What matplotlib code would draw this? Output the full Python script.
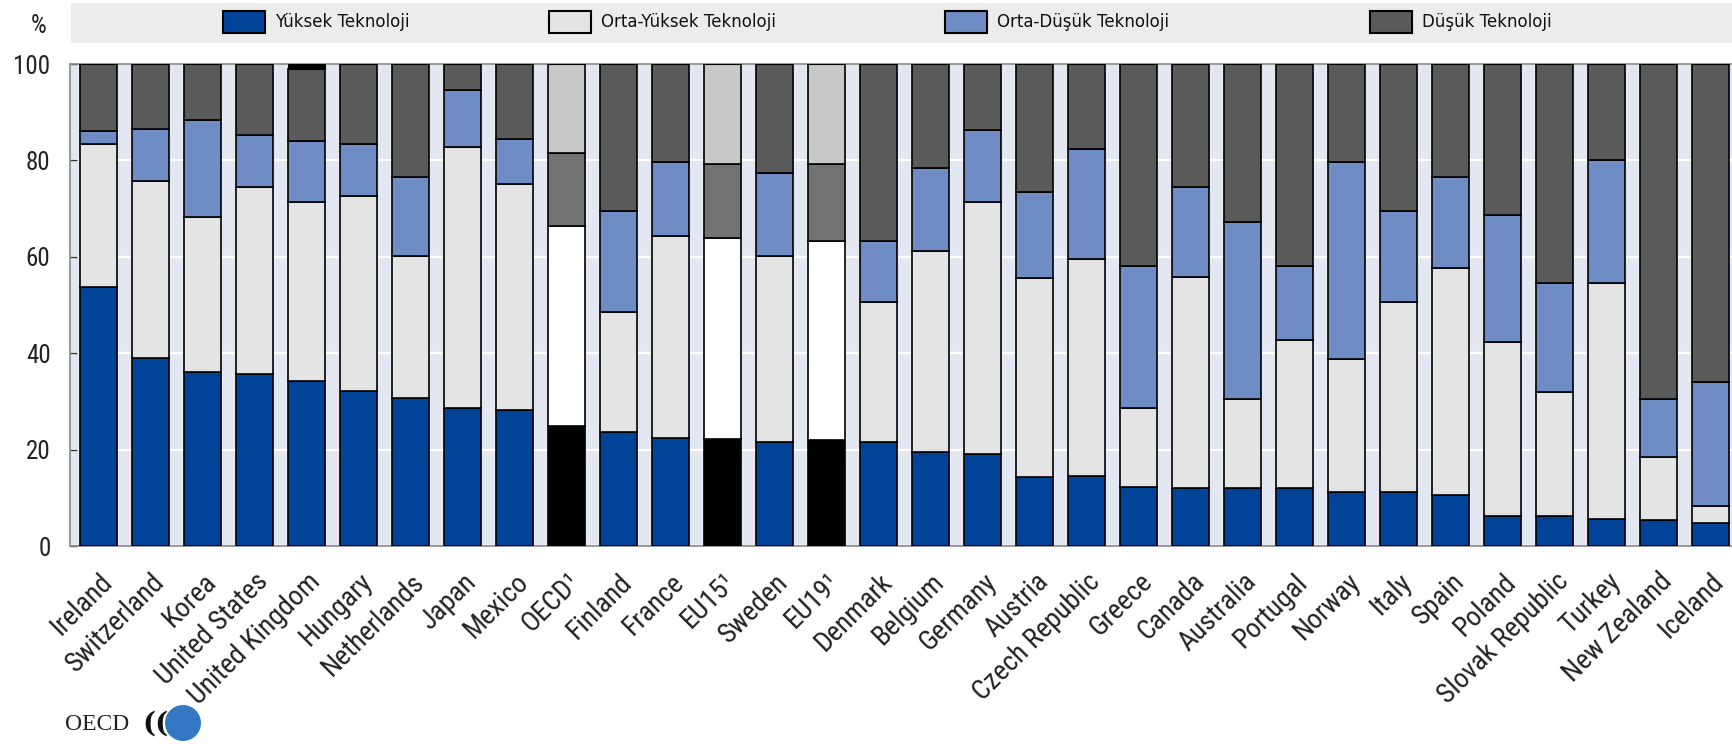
import matplotlib
matplotlib.use('Agg')
import matplotlib.pyplot as plt
import matplotlib.patches as patches
from matplotlib import font_manager
import numpy as np

ulkeler = ['Ireland', 'Switzerland', 'Korea', 'United States', 'United Kingdom', 'Hungary',
           'Netherlands', 'Japan', 'Mexico', 'OECD¹', 'Finland', 'France', 'EU15¹', 'Sweden',
           'EU19¹', 'Denmark', 'Belgium', 'Germany', 'Austria', 'Czech Republic', 'Greece',
           'Canada', 'Australia', 'Portugal', 'Norway', 'Italy', 'Spain', 'Poland',
           'Slovak Republic', 'Turkey', 'New Zealand', 'Iceland']

yuksek = [53.7, 39.1, 36.2, 35.7, 34.2, 32.2, 30.8, 28.6, 28.2, 24.8, 23.7, 22.5, 22.1, 21.6,
          21.9, 21.6, 19.4, 19.0, 14.4, 14.6, 12.3, 12.0, 12.0, 12.0, 11.1, 11.1, 10.6, 6.2,
          6.2, 5.7, 5.4, 4.8]
orta_yuksek = [29.8, 36.6, 32.0, 38.7, 37.1, 40.5, 29.4, 54.1, 46.9, 41.6, 24.8, 41.8, 41.7, 38.6,
               41.4, 29.0, 41.8, 52.4, 41.1, 44.9, 16.4, 43.9, 18.5, 30.7, 27.6, 39.5, 47.0, 36.1,
               25.8, 48.8, 13.1, 3.6]
orta_dusuk = [2.6, 10.8, 20.2, 10.9, 12.8, 10.8, 16.4, 11.9, 9.4, 15.1, 21.0, 15.4, 15.5, 17.2,
              16.0, 12.7, 17.2, 14.9, 18.0, 22.8, 29.4, 18.5, 36.8, 15.4, 40.9, 18.9, 19.0, 26.4,
              22.5, 25.6, 11.9, 25.6]
dusuk = [13.9, 13.5, 11.6, 14.7, 14.9, 16.5, 23.4, 5.4, 15.5, 18.5, 30.5, 20.3, 20.7, 22.6,
         20.7, 36.7, 21.6, 13.7, 26.5, 17.7, 41.9, 25.6, 32.7, 41.9, 20.4, 30.5, 23.4, 31.3,
         45.5, 19.9, 69.6, 66.0]
# small unallocated share shown in black on top (UK only)
diger = [0, 0, 0, 0, 1.0, 0, 0, 0, 0, 0, 0, 0, 0, 0, 0, 0, 0, 0, 0, 0, 0, 0, 0, 0, 0, 0, 0, 0,
         0, 0, 0, 0]

aggregates = ['OECD¹', 'EU15¹', 'EU19¹']

seriler = ['Yüksek Teknoloji', 'Orta-Yüksek Teknoloji', 'Orta-Düşük Teknoloji', 'Düşük Teknoloji']
renkler = ['#00449a', '#e4e4e4', '#6f8dc4', '#5a5a5a']
agg_renkler = ['#000000', '#ffffff', '#737373', '#c8c8c8']

# narrow font if there is one, else plain Liberation Sans
names = {f.name for f in font_manager.fontManager.ttflist}
narrow = None
for cand in ['Liberation Sans Narrow', 'DejaVu Sans Condensed', 'Roboto Condensed']:
    if cand in names:
        narrow = cand
        break
if narrow is not None:
    FONT = [narrow, 'DejaVu Sans']
    lab_size, tick_size = 20, 18
else:
    FONT = ['Liberation Sans', 'DejaVu Sans']
    lab_size, tick_size = 16.5, 15.5

W, H = 1732, 744
fig = plt.figure(figsize=(W / 100, H / 100), dpi=100)
ax = fig.add_axes([70 / W, 198 / H, 1 - 70 / W, 482 / H])
ax.set_facecolor('#e3e7f1')

x = np.arange(len(ulkeler))
bottom = np.zeros(len(ulkeler))
for i, vals in enumerate([yuksek, orta_yuksek, orta_dusuk, dusuk]):
    cols = [agg_renkler[i] if u in aggregates else renkler[i] for u in ulkeler]
    ax.bar(x, vals, 0.71, bottom=bottom, color=cols, edgecolor='black', linewidth=1.2, zorder=3)
    bottom += np.array(vals)
ax.bar(x, diger, 0.71, bottom=bottom, color='black', edgecolor='black', linewidth=0.8, zorder=3)

ax.set_xlim(-0.55, 31.41)
ax.set_ylim(0, 100)
ax.set_yticks([0, 20, 40, 60, 80, 100])
ax.yaxis.grid(True, color='white', linewidth=1.6, zorder=0)
ax.set_axisbelow(True)
ax.tick_params(axis='y', direction='in', length=5, width=1, color='#333333', pad=14,
               labelsize=tick_size, labelcolor='#222222')
for lab in ax.get_yticklabels():
    lab.set_family(FONT)
ax.tick_params(axis='x', length=0, pad=16)
ax.set_xticks(x)
ax.set_xticklabels(ulkeler, rotation=45, ha='right', va='top', rotation_mode='anchor',
                   fontsize=lab_size, family=FONT, color='#222222')
for s in ['left', 'bottom', 'top']:
    ax.spines[s].set_color('#888888')
    ax.spines[s].set_linewidth(1.2)
ax.spines['right'].set_visible(False)

fig.text(31 / W, 1 - 26 / H, '%', fontsize=tick_size, family=FONT, color='#222222', va='center')

# legend band
fig.patches.append(patches.Rectangle((71 / W, 1 - 43 / H), 1 - 71 / W, 40 / H,
                                     transform=fig.transFigure, fc='#ececec', ec='none'))
leg_x = [223, 549, 945, 1370]
for lx, lab, c in zip(leg_x, seriler, renkler):
    fig.patches.append(patches.Rectangle((lx / W, 1 - 33 / H), 42 / W, 22 / H,
                                         transform=fig.transFigure, fc=c, ec='black', lw=1.5))
    fig.text((lx + 52) / W, 1 - 22 / H, lab, fontsize=12, family='DejaVu Sans',
             color='#111111', va='center')

# OECD logo
fig.text(65 / W, 1 - 724 / H, 'OECD', fontsize=17, family='Liberation Serif',
         color='#222222', va='center')
fig.text(142 / W, 1 - 724 / H, '((', fontsize=20, family='DejaVu Serif', weight='bold',
         color='#111111', va='center')
fig.patches.append(patches.Ellipse((183 / W, 1 - 723 / H), 36 / W, 36 / H,
                                   transform=fig.transFigure, fc='#3378c3', ec='none'))

fig.savefig('out.png', dpi=100)
